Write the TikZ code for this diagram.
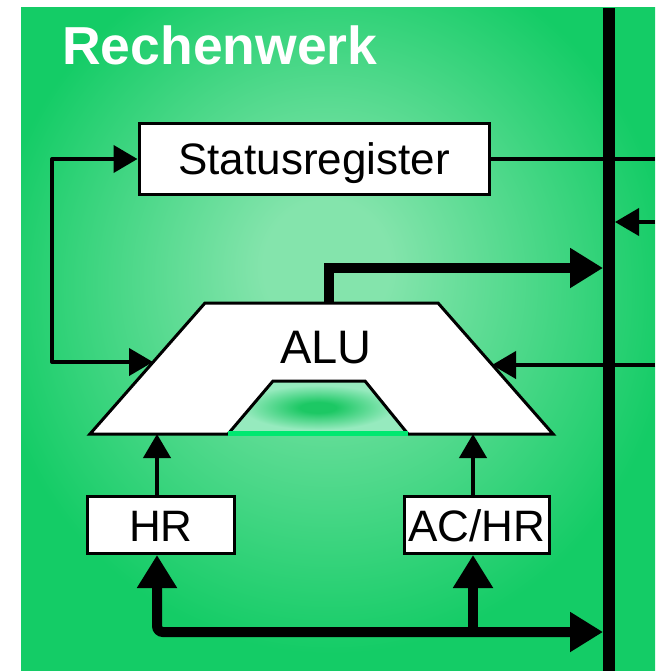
\documentclass[tikz,border=0pt]{standalone}
\usepackage{fontspec}
\setmainfont{Liberation Sans}
\usetikzlibrary{arrows.meta}

\definecolor{rwgreen}{RGB}{20,204,102}
\definecolor{rwlight}{RGB}{132,228,172}
\definecolor{notchdark}{RGB}{28,200,100}
\definecolor{notchlight}{RGB}{150,234,190}
\definecolor{notchline}{RGB}{0,232,112}

% soft glow behind the unit, and the dark spot inside the ALU notch
\pgfdeclareradialshading{rwglow}{\pgfpoint{-1bp}{6bp}}{color(0bp)=(rwlight); color(5bp)=(rwlight); color(27bp)=(rwgreen); color(60bp)=(rwgreen)}
\pgfdeclareradialshading{notchglow}{\pgfpoint{0bp}{0bp}}{color(0bp)=(notchdark); color(5bp)=(notchdark); color(21bp)=(notchlight); color(50bp)=(notchlight)}

\begin{document}
\begin{tikzpicture}[x=1pt,y=-1pt,
  box/.style={draw,fill=white,line width=3pt,inner sep=0pt,text height=32pt,text depth=0pt,font=\fontsize{44}{48}\selectfont},
  wire/.style={line width=4pt,line join=round,>={Triangle[length=24pt,width=27pt]}},
  bigwire/.style={line width=10pt,>={Triangle[length=33pt,width=38pt]}}]
\useasboundingbox (0,0) rectangle (655,671);
\shade[shading=rwglow] (21,8) rectangle (655,671);

% bus
\draw[line width=12pt] (609,8) coordinate (bustop) -- (609,671) coordinate (busbot);

\node[anchor=base west,inner sep=0pt,text=white,font=\bfseries\fontsize{53.5}{58}\selectfont] (title) at (62,65) {Rechenwerk};

\node[box,minimum width=350pt,minimum height=70pt] (status) at (314,159) {Statusregister};

% ALU with its notch
\shade[shading=notchglow] (228,434) -- (273,381) -- (365,381) -- (408,434) -- cycle;
\filldraw[fill=white,line width=3pt] (205,303) -- (438,303) -- (553,434) -- (408,434) -- (365,381) -- (273,381) -- (228,434) -- (90,434) -- cycle;
\draw[notchline,line width=5pt] (228,433) -- (408,433);
\node[anchor=base,inner sep=0pt,font=\fontsize{47}{50}\selectfont] (alu) at (326,363) {ALU};
\coordinate (alu-top) at (329,303);
\coordinate (alu-left) at (153,362);
\coordinate (alu-right) at (492,365);
\coordinate (alu-b1) at (157,434);
\coordinate (alu-b2) at (473,434);

\node[box,minimum width=147pt,minimum height=57pt] (hr) at (161,525) {HR};
\node[box,minimum width=145pt,minimum height=57pt] (achr) at (477,525) {AC/HR};

% connections
\coordinate (loop) at (52,362);
\draw[wire,<->] (status.west) -| (loop) -- (alu-left);
\draw[wire] (status.east) -- (655,159) coordinate (st-out);
\draw[wire,->] (655,222) coordinate (bus-r) -- (615,222) coordinate (bus-in);
\draw[wire,->] (655,365) coordinate (alu-in) -- (alu-right);
\draw[bigwire,->] (alu-top) |- (603,268) coordinate (bus-out);
\draw[wire,->] (hr.north -| alu-b1) -- (alu-b1);
\draw[wire,->] (achr.north -| alu-b2) -- (alu-b2);
\draw[bigwire,<->,rounded corners=6pt] (hr.south -| alu-b1) -- (157,632) -- (603,632) coordinate (bus-low);
\draw[bigwire,->] (473,632) -- (achr.south -| alu-b2);
\end{tikzpicture}
\end{document}
